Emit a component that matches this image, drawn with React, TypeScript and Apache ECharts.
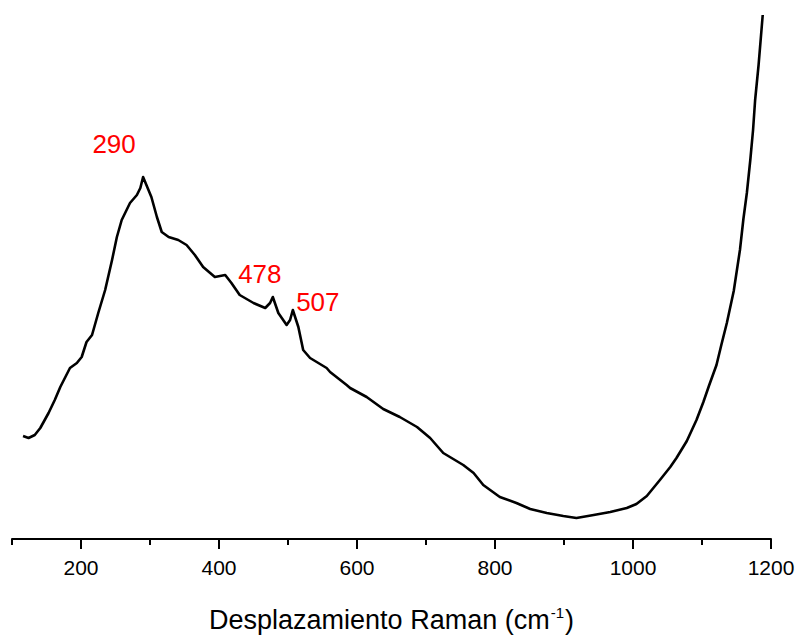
import React, { useEffect, useRef } from "react";
import * as echarts from "echarts";

// Raman shift (cm-1) and measured intensity (arbitrary units)
const ramanShift = [
  116, 124, 133, 141, 153, 162, 170, 184, 194, 201, 208, 216, 225, 235, 245,
  252, 259, 271, 281, 286, 290, 302, 310, 317, 327, 341, 353, 365, 377, 394,
  409, 418, 430, 450, 467, 474, 478, 486, 498, 503, 507, 515, 522, 532, 556,
  561, 585, 590, 614, 638, 662, 687, 706, 725, 754, 769, 783, 807, 831, 851,
  875, 899, 918, 943, 967, 991, 1005, 1020, 1039, 1054, 1063, 1078, 1092,
  1102, 1110, 1121, 1128, 1136, 1146, 1155, 1160, 1165, 1170, 1174, 1177,
  1182, 1188,
];
const intensity = [
  103, 101, 104, 111, 126, 139, 152, 171, 176, 182, 197, 204, 226, 249, 279,
  302, 319, 336, 344, 351, 362, 342, 322, 307, 302, 299, 294, 284, 272, 262,
  264, 256, 244, 236, 231, 236, 242, 226, 214, 219, 229, 212, 189, 181, 171,
  167, 154, 151, 142, 130, 122, 112, 101, 86, 74, 66, 54, 42, 36, 30,
  26, 23, 21, 24, 27, 31, 35, 43, 59, 72, 81, 98, 119,
  137, 153, 174, 194, 216, 248, 289, 320, 346, 379, 409, 439,
  474, 524,
];

// Annotated bands
const peakShifts = [290, 478, 507];
const peakIntensity = [362, 242, 229];

// Axis ticks
const majorTicks = [200, 400, 600, 800, 1000, 1200];
const minorTicks = [100, 300, 500, 700, 900, 1100];

const FONT = "'Liberation Sans', Arial, sans-serif";

export default function App() {
  const ref = useRef<HTMLDivElement>(null);

  useEffect(() => {
    if (!ref.current) return;
    const chart = echarts.init(ref.current, null, { renderer: "svg" });

    const labelOffsets: Record<number, [number, number]> = {
      290: [-29, -33],
      478: [-13, -23],
      507: [25, -8],
    };

    const option = {
      animation: false,
      backgroundColor: "#ffffff",
      grid: {
        left: 12,
        right: 27,
        top: 14,
        bottom: 98,
        containLabel: false,
        outerBoundsMode: "none",
      },
      xAxis: [
        {
          type: "value",
          min: 100,
          max: 1200,
          position: "bottom",
          splitLine: { show: false },
          axisLine: { show: true, lineStyle: { color: "#000", width: 2 } },
          axisTick: {
            show: true,
            customValues: majorTicks,
            length: 10,
            lineStyle: { color: "#000", width: 2 },
          },
          axisLabel: {
            show: true,
            customValues: majorTicks,
            formatter: (v: number) => String(v),
            fontSize: 21,
            fontFamily: FONT,
            color: "#000",
            margin: 18,
          },
          name: "{t|Desplazamiento Raman (cm}{s|-1}{t|)}",
          nameLocation: "middle",
          nameGap: 66,
          nameTextStyle: {
            fontFamily: FONT,
            color: "#000",
            rich: {
              t: { fontSize: 27, fontFamily: FONT, color: "#000", lineHeight: 30 },
              s: {
                fontSize: 15,
                fontFamily: FONT,
                color: "#000",
                verticalAlign: "top",
                lineHeight: 15,
                padding: [0, 1, 0, 1],
              },
            },
          },
        },
        {
          type: "value",
          min: 100,
          max: 1200,
          position: "bottom",
          splitLine: { show: false },
          axisLine: { show: false },
          axisTick: {
            show: true,
            customValues: minorTicks,
            length: 6,
            lineStyle: { color: "#000", width: 2 },
          },
          axisLabel: { show: false },
        },
      ],
      yAxis: {
        type: "value",
        min: 0,
        max: 525,
        show: false,
        splitLine: { show: false },
      },
      series: [
        {
          type: "line",
          xAxisIndex: 0,
          data: ramanShift.map((x, i) => [x, intensity[i]]),
          showSymbol: false,
          symbol: "none",
          lineStyle: { color: "#000", width: 2.6, join: "round" },
          silent: true,
        },
        {
          type: "scatter",
          xAxisIndex: 0,
          symbolSize: 0,
          silent: true,
          itemStyle: { opacity: 1, color: "#ff0000" },
          data: peakShifts.map((x, i) => ({
            value: [x, peakIntensity[i]],
            label: {
              show: true,
              position: "inside",
              offset: labelOffsets[x],
              formatter: String(x),
              fontSize: 26,
              fontFamily: FONT,
              color: "#ff0000",
              opacity: 1,
            },
          })),
        },
      ],
    };

    chart.setOption(option as any);
    return () => chart.dispose();
  }, []);

  return (
    <div
      ref={ref}
      style={{ position: "fixed", left: 0, top: 0, width: 798, height: 637 }}
    />
  );
}
